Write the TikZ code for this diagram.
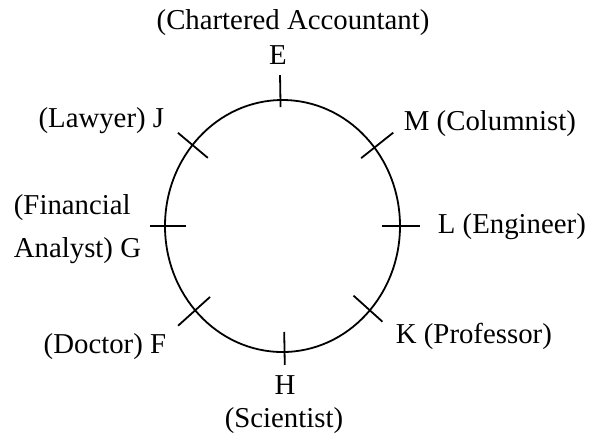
\documentclass[tikz,border=0pt]{standalone}
\usepackage{fontspec}
\setmainfont{Liberation Serif}
\usetikzlibrary{calc}
\tikzset{lbl/.style={inner sep=0pt, font=\fontsize{14.4}{21.5}\selectfont}}

\begin{document}
\begin{tikzpicture}[x=0.5pt,y=-0.5pt,line width=0.9pt]
    \useasboundingbox (0,0) rectangle (589,436);
    \coordinate (o) at (282.5,226);
    \draw (o) ellipse [x radius=58.75pt, y radius=63pt];
    % seat marks: name/angle/inside/outside
    \foreach \n/\a/\i/\o in {e/91/7/25, m/38.5/17/24, l/0/18/20, k/-42/22/17,
                             h/-89/20/13, f/222/20/23, g/180/21/15, j/140/20/19}{
        \coordinate (\n-in) at ($(o)+({(117.5-\i)*cos(\a)},{-(126-\i)*sin(\a)})$);
        \coordinate (\n-out) at ($(o)+({(117.5+\o)*cos(\a)},{-(126+\o)*sin(\a)})$);
        \draw (\n-in) -- (\n-out);
    }
    \node[lbl, anchor=base] (ca) at (293,29) {(Chartered Accountant)};
    \node[lbl, anchor=base] (e) at (278,64) {E};
    \node[lbl, anchor=base east] (j) at (165,127) {(Lawyer) J};
    \node[lbl, anchor=base west] (m) at (403,130) {M (Columnist)};
    \node[lbl, anchor=base west] (g1) at (13,214) {(Financial};
    \node[lbl, anchor=base west] (g2) at (13,257) {Analyst) G};
    \node[lbl, anchor=base west] (l) at (437,233) {L (Engineer)};
    \node[lbl, anchor=base east] (f) at (167,353) {(Doctor) F};
    \node[lbl, anchor=base west] (k) at (395,343) {K (Professor)};
    \node[lbl, anchor=base] (h) at (285,394) {H};
    \node[lbl, anchor=base] (hs) at (284,427) {(Scientist)};
\end{tikzpicture}
\end{document}
